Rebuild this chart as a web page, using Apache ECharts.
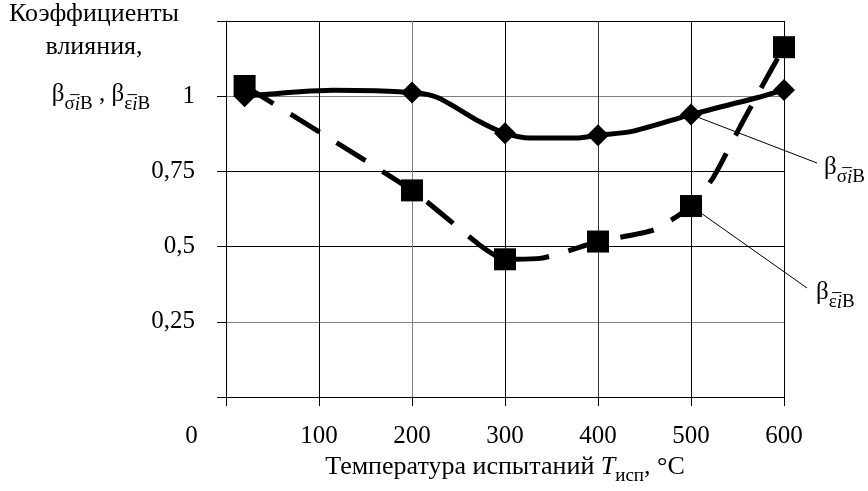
<!DOCTYPE html>
<html>
<head>
<meta charset="utf-8">
<script src="https://cdn.jsdelivr.net/npm/echarts@6/dist/echarts.min.js"></script>
<style>
  html, body { margin: 0; padding: 0; background: #fff; }
  #chart { width: 868px; height: 491px; }
</style>
</head>
<body>
<div id="chart"></div>
<script>
  // температура испытаний, °C
  var xMin = 0, xMax = 600, xStep = 100;
  var yMin = 0, yMax = 1.25, yStep = 0.25;

  // β σ (сплошная линия), точки с маркером помечены 1
  var sigmaT = [20, 115, 200, 228, 273, 300, 327, 377, 400, 438, 500, 571, 600];
  var sigmaB = [1.0, 1.02, 1.012, 0.995, 0.915, 0.877, 0.861, 0.861, 0.870, 0.884, 0.939, 0.995, 1.021];
  var sigmaMark = [1, 0, 1, 0, 0, 1, 0, 0, 1, 0, 1, 0, 1];

  // β ε (пунктир)
  var epsT = [20, 200, 273, 300, 338, 400, 460, 500, 524, 553, 583, 600];
  var epsB = [1.034, 0.687, 0.505, 0.458, 0.461, 0.517, 0.556, 0.635, 0.73, 0.9, 1.07, 1.163];
  var epsMark = [1, 1, 0, 1, 0, 1, 0, 1, 0, 0, 0, 1];

  var FONT = 'Liberation Serif';

  function toData(xs, ys, marks, sym) {
    return xs.map(function (x, i) {
      return { value: [x, ys[i]], symbol: marks[i] ? sym : 'none' };
    });
  }

  // подписи с нижними индексами
  var subRich = {
    b: { fontFamily: FONT, fontSize: 25, lineHeight: 30, verticalAlign: 'top', color: '#000' },
    s: { fontFamily: FONT, fontSize: 19, lineHeight: 19, padding: [13, 0, 0, 0], verticalAlign: 'top', color: '#000' },
    si: { fontFamily: FONT, fontSize: 19, fontStyle: 'italic', lineHeight: 19, padding: [13, 0, 0, 0], verticalAlign: 'top', color: '#000' }
  };
  var sigmaTxt = '{b|β}{s|σ\u0305}{si|i}{s|В}';
  var epsTxt = '{b|β}{s|ε\u0305}{si|i}{s|В}';

  var chart = echarts.init(document.getElementById('chart'));

  var option = {
    backgroundColor: '#fff',
    animation: false,
    grid: { left: 226, right: 84, top: 21, bottom: 88 },
    xAxis: {
      type: 'value',
      min: xMin, max: xMax, interval: xStep,
      name: '{m|Температура испытаний }{it|T}{sub|исп}{m|, °C}',
      nameLocation: 'middle',
      nameGap: 54,
      nameTextStyle: {
        rich: {
          m: { fontFamily: FONT, fontSize: 26, lineHeight: 30, verticalAlign: 'top', color: '#000' },
          it: { fontFamily: FONT, fontSize: 26, fontStyle: 'italic', lineHeight: 30, verticalAlign: 'top', color: '#000' },
          sub: { fontFamily: FONT, fontSize: 19, lineHeight: 19, padding: [13, 0, 0, 0], verticalAlign: 'top', color: '#000' }
        }
      },
      axisLine: { lineStyle: { color: '#000', width: 1 } },
      axisTick: { show: true, inside: false, length: 9, lineStyle: { color: '#000' } },
      axisLabel: {
        margin: 27,
        fontFamily: FONT, fontSize: 25, color: '#000',
        formatter: function (v) { return v === 0 ? '{z|0}' : String(v); },
        rich: { z: { fontFamily: FONT, fontSize: 25, color: '#000', padding: [0, 69, 0, 0] } }
      },
      splitLine: { show: true, lineStyle: { color: ['#000', '#000', '#808080', '#000', '#333', '#000', '#000'], width: 1 } }
    },
    yAxis: {
      type: 'value',
      min: yMin, max: yMax, interval: yStep,
      axisLine: { show: true, lineStyle: { color: '#000', width: 1 } },
      axisTick: { show: true, inside: false, length: 9, lineStyle: { color: '#000' } },
      axisLabel: {
        margin: 31,
        fontFamily: FONT, fontSize: 25, color: '#000',
        formatter: function (v) {
          if (v === yMin || v === yMax) return '';
          return String(v).replace('.', ',');
        }
      },
      splitLine: { show: true, lineStyle: { color: ['#000', '#808080', '#000', '#000', '#808080', '#000'], width: 1 } }
    },
    series: [
      {
        name: 'sigma',
        type: 'line',
        data: toData(sigmaT, sigmaB, sigmaMark, 'diamond'),
        smooth: 0.25,
        symbolSize: 22,
        showAllSymbol: true,
        itemStyle: { color: '#000' },
        lineStyle: { color: '#000', width: 5 },
        z: 3
      },
      {
        name: 'eps',
        type: 'line',
        data: toData(epsT, epsB, epsMark, 'rect'),
        smooth: 0.2,
        symbolSize: 22,
        showAllSymbol: true,
        itemStyle: { color: '#000' },
        lineStyle: { color: '#000', width: 5, type: [34, 20] },
        z: 4
      }
    ]
  };

  chart.setOption(option);

  // выноски к кривым
  var pS = chart.convertToPixel({ gridIndex: 0 }, [500, 0.939]);
  var pE = chart.convertToPixel({ gridIndex: 0 }, [500, 0.635]);

  chart.setOption({
    graphic: [
      { type: 'line', z: 1, shape: { x1: pS[0], y1: pS[1], x2: 817, y2: 163 }, style: { stroke: '#000', lineWidth: 1 } },
      { type: 'line', z: 1, shape: { x1: pE[0], y1: pE[1], x2: 807, y2: 288 }, style: { stroke: '#000', lineWidth: 1 } },
      { type: 'text', x: 824, y: 155, style: { text: sigmaTxt, rich: subRich, verticalAlign: 'top', align: 'left' } },
      { type: 'text', x: 816, y: 280, style: { text: epsTxt, rich: subRich, verticalAlign: 'top', align: 'left' } },
      // подпись оси ординат
      { type: 'text', x: 94, y: -2, style: { text: 'Коэффициенты\nвлияния,', fontFamily: FONT, fontSize: 26, lineHeight: 33, fill: '#000', align: 'center', verticalAlign: 'top' } },
      { type: 'text', x: 101, y: 82, style: { text: sigmaTxt + '{b| , }' + epsTxt, rich: subRich, align: 'center', verticalAlign: 'top' } }
    ]
  });
</script>
</body>
</html>
